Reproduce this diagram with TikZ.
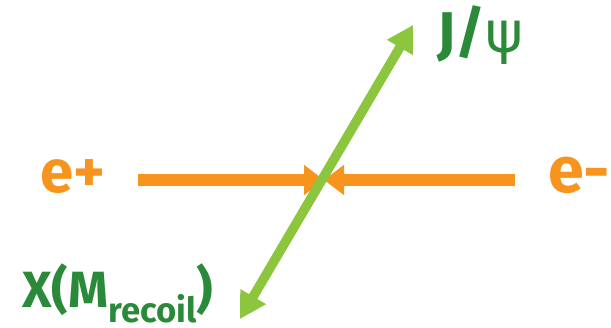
\documentclass[tikz,border=0pt]{standalone}
\usepackage{fontspec}
\setmainfont{Fira Sans}
\newfontfamily\greekfont{DejaVu Sans}
\usetikzlibrary{arrows.meta}
\definecolor{beamorange}{HTML}{F7941D}
\definecolor{linegreen}{HTML}{8CC63F}
\definecolor{textgreen}{HTML}{2A8A3A}
\tikzset{
  beam/.style={draw=beamorange, line width=12pt, -{Triangle[length=20pt,width=29pt]}},
  decay/.style={draw=linegreen, line width=9.5pt, {Triangle[length=26pt,width=28pt]}-{Triangle[length=26pt,width=28pt]}},
  lbl/.style={inner sep=0pt, font=\fontsize{50}{52}\selectfont\bfseries},
}
\begin{document}
\begin{tikzpicture}[x=1pt,y=-1pt]
\useasboundingbox (0,0) rectangle (611,328);
\coordinate (lend) at (138,180);
\coordinate (rend) at (515,180);
\coordinate (mid) at (324,180);
\coordinate (top) at (413,25);
\coordinate (bot) at (240,319);
\draw[beam] (lend) -- (mid);
\draw[beam] (rend) -- (mid);
\draw[decay] (bot) -- (top);
\node[lbl, text=beamorange, anchor=base west] (eplus) at (40,193) {\resizebox{65pt}{!}{e+}};
\node[lbl, text=beamorange, anchor=base west] (eminus) at (548,193) {\resizebox{62pt}{!}{e-}};
\node[lbl, text=textgreen, anchor=base west] (jpsi) at (437,53) {\resizebox{86pt}{!}{J/{\greekfont\mdseries ψ}}};
\node[lbl, text=textgreen, anchor=base west] (xrec) at (22,308) {\resizebox{191pt}{!}{X(M\raisebox{-0.28em}{\fontsize{34}{36}\selectfont recoil})}};
\end{tikzpicture}
\end{document}
